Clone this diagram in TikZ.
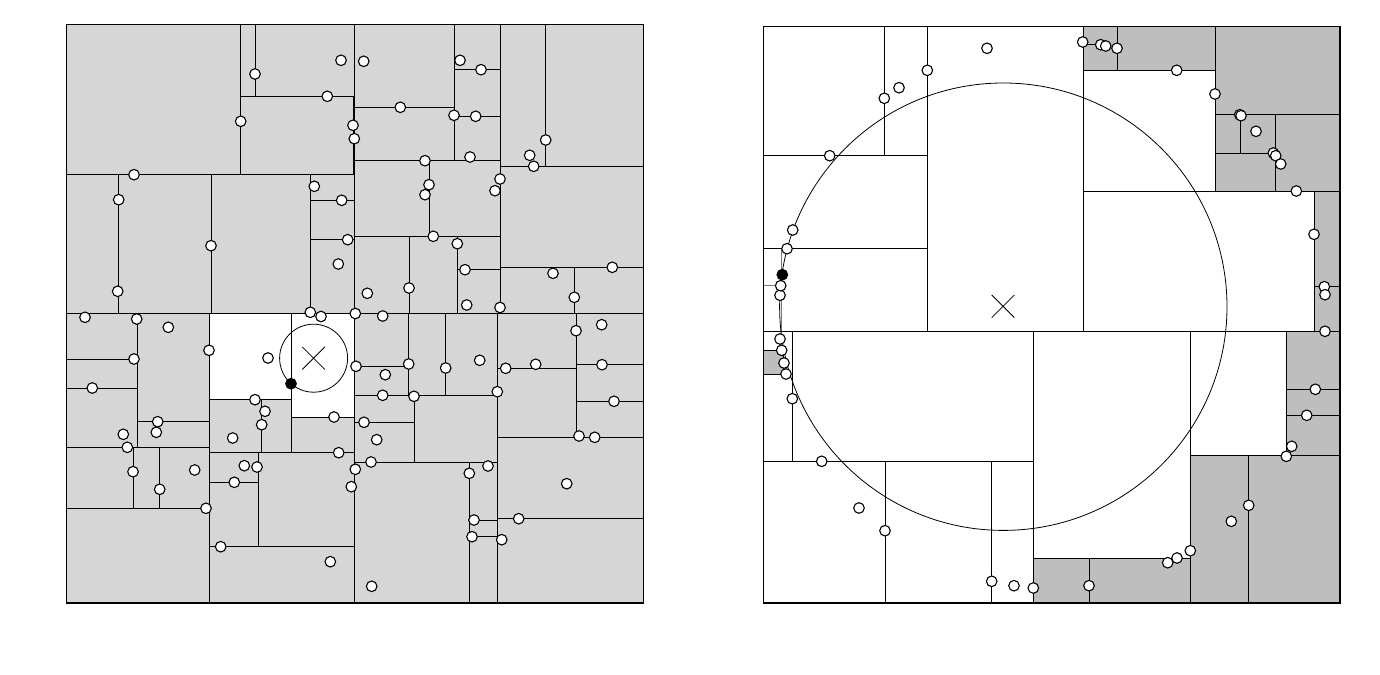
\documentclass[tikz,border=0pt]{standalone}
\definecolor{lgray}{RGB}{214,214,214}
\definecolor{dgray}{RGB}{190,190,190}
\definecolor{mgray}{RGB}{120,120,120}
\tikzset{
  seg/.style={line width=0.9pt, draw=black},
  gseg/.style={line width=0.9pt, draw=mgray},
  frame/.style={line width=1.2pt, draw=black},
  pt/.style={draw=black, fill=white, line width=1.1pt},
  bpt/.style={draw=black, fill=black, line width=1.1pt},
  ring/.style={line width=0.8pt, draw=black},
  crossmark/.style={line width=0.8pt, draw=black}
}
\begin{document}
\begin{tikzpicture}[x=1pt,y=-1pt]
\useasboundingbox (0,0) rectangle (1380,674);
% ================= LEFT PANEL =================
\fill[lgray] (66.7,24.7) rectangle (643.3,603);
\fill[white] (209,313) -- (354.5,313) -- (354.5,417) -- (291,417) -- (291,399.7) -- (209,399.7) -- cycle;
\foreach \x/\ya/\yb in {240.7/24.7/174.7, 255/24.7/96.3, 353/96.3/174.7, 354.5/24.7/603,
  118.7/174.7/313, 211/174.7/313, 454/24.7/160.7, 429/160.7/236.3, 310.3/174.7/313,
  409/236.3/313, 500/24.7/313, 457.3/236.3/313, 545.7/24.7/166.3, 574.3/267.3/313,
  137.3/313/447.3, 209/313/603, 133/447.3/508, 159.7/447.3/508, 291/313/452.3,
  261.7/399.7/452.3, 258.3/452.3/546.7, 408.7/313/395.3, 445.7/313/395.3, 414/395.3/462,
  497.3/313/603, 576/313/437, 469.3/462/603}
  \draw[seg] (\x,\ya) -- (\x,\yb);
\foreach \y/\xa/\xb in {96.3/240.7/353, 174.7/66.7/354.5, 313/66.7/643.3, 107.3/354.5/454,
  69.7/454/500, 116.3/454/500, 160.7/354.5/500, 236.3/354.5/500, 200.3/310.3/354.5,
  239.7/310.3/354.5, 269.7/457.3/500, 166.3/500/643.3, 267.3/500/643.3, 359/66.7/137.3,
  388/66.7/137.3, 421.7/137.3/209, 447.3/66.7/209, 508/66.7/209, 399.7/209/291,
  417/291/354.5, 452.3/209/354.5, 482.3/209/258.3, 546.7/209/354.5, 366.3/354.5/408.7,
  395.3/354.5/497.3, 422.3/354.5/414, 462/354.5/497.3, 368.3/497.3/576, 364.7/576/643.3,
  401.3/576/643.3, 437/497.3/643.3, 520/469.3/497.3, 518.7/497.3/643.3, 536.7/469.3/497.3}
  \draw[seg] (\xa,\y) -- (\xb,\y);
\draw[frame] (66.7,24.7) rectangle (643.3,603);
\draw[ring] (313.6,358.2) circle (34pt);
\draw[crossmark] (302.3,346.9) -- (324.9,369.5) (302.3,369.5) -- (324.9,346.9);
\foreach \x/\y in {255/74, 240.7/121.3, 134/174.7, 118.7/199.7, 117.7/291.3, 211/245.7,
  85/317.3, 136.7/319, 341/60.3, 363.7/61.3, 327.3/96.3, 353/125.3, 354.3/138.7,
  400.3/107.3, 425/160.7, 429/184.7, 425/194.7, 433.3/236.3, 314.3/186.3, 341.7/200.3,
  347.7/239.7, 338.3/264, 310.3/312.3, 321/316.5, 355.3/313.5, 382.7/316, 409/288,
  367.3/293.3, 460/60.3, 481/69.7, 454/115.3, 475.7/116.3, 470/157, 500/179, 495/190.7,
  545.7/140, 529.7/155.3, 533.7/166.3, 457.3/243.7, 465/269.7, 466.7/305, 612.3/267.3,
  553/273.3, 574.3/297.3, 500/307.5,
  168.3/327.3, 209/350.3, 134/359, 92.3/388, 157.7/421.7, 156.3/432.3, 123.3/434.3,
  127.3/447.3, 133/471.7, 159.7/489.3, 194.7/470, 206/508.3, 255/399.7, 232.7/438,
  244.3/465.7, 257/467, 234.3/482.3, 220.7/546.7, 268/358, 265/411.3, 261.7/424.7,
  334/417, 338.7/452.7, 356/366.3, 408.7/364, 385.3/374.7, 382.7/395.3, 414/396.3,
  445.7/368, 364/422.3, 376.7/439.7, 371/462, 355.3/469.3, 351.3/486.7, 330.3/561.7,
  371.7/586.3, 479.7/360.3, 497.3/391.7, 505.7/368.3, 535.7/364.3, 576/330.7,
  601.7/324.7, 602/364.7, 614/401.3, 579/436, 594.7/437.3, 488/466, 469.3/473.3,
  566.7/483.7, 474/520, 518.7/518.7, 472/536.7, 501.7/539.7}
  \draw[pt] (\x,\y) circle (5.3pt);
\draw[bpt] (291,383.7) circle (5.3pt);
% ================= RIGHT PANEL =================
\fill[dgray] (1083,26.3) rectangle (1215,70.3);
\fill[dgray] (1215,26.3) rectangle (1340,191);
\fill[dgray] (1314,191) rectangle (1340,331.3);
\fill[dgray] (1286.7,331.3) rectangle (1340,455.7);
\fill[dgray] (1190.3,455.7) rectangle (1340,603);
\fill[dgray] (1033.3,558) rectangle (1190.3,603);
\fill[dgray] (763.3,350.7) rectangle (783,374);
\foreach \x/\ya/\yb in {884.3/26.3/155.7, 927.3/26.3/331.3, 1083/26.3/331.3, 1117/26.3/70.3,
  1215/26.3/191, 1240.7/114.7/153.7, 1275.3/114.7/191, 1314/191/331.3, 792.3/331.3/461.3,
  885/461.3/603, 991.7/461.3/603, 1033.3/331.3/603, 1089/558/603, 1190.3/331.3/603,
  1286.7/331.3/455.7, 1248.7/455.7/603}
  \draw[seg] (\x,\ya) -- (\x,\yb);
\foreach \y/\xa/\xb in {155.7/763.3/927.3, 248.7/763.3/927.3, 70.3/1083/1215, 44.7/1083/1100.7,
  191/1083/1340, 114.7/1215/1340, 153.7/1215/1275.3, 286.7/1314/1340, 331.3/763.3/1340,
  461.3/763.3/1033.3, 558/1033.3/1190.3, 389.3/1286.7/1340, 415.3/1286.7/1340,
  455.7/1190.3/1340}
  \draw[seg] (\xa,\y) -- (\xb,\y);
\draw[gseg] (781,248.7) -- (781,331.3);
\draw[gseg] (763.3,285.7) -- (781,285.7);
\draw[seg] (763.3,350.7) -- (783,350.7) -- (783,374) -- (763.3,374);
\draw[frame] (763.3,26.3) rectangle (1340,603);
\draw[ring] (1003.3,306.7) circle (223.7pt);
\draw[crossmark] (991.7,295) -- (1014.3,317.6) (991.7,317.6) -- (1014.3,295);
\foreach \x/\y in {987/48.3, 1082.7/42, 1100.7/44.7, 1105.7/46, 1117/48.3, 1176.7/70.3,
  1215/94, 1239.7/114.7, 1241/115.7, 1256/131.3, 1273.3/153, 1275.7/155.7, 1280.7/164,
  1296.3/191, 1314/234.3, 1324.3/286.7, 1325/294.7, 1325/331.3, 1315.3/389.3,
  1306.7/415.3, 1291.7/446.3, 1286.3/456.3, 1248.7/505.3, 1231.3/521.3, 1190.3/550.7,
  1177/558, 1167.7/562.7, 1089/585.7, 1033.3/588, 1014/585.7, 991.7/581.3, 885/530.7,
  859/508, 821.7/461.3, 792.3/398.7, 786/374, 784/363, 781.7/350.3, 780/339,
  780/295.3, 780.7/285.7, 787/248.7, 792.7/230, 829.7/155.7, 884.3/98.3, 899/87.7,
  927.3/70.3}
  \draw[pt] (\x,\y) circle (5.3pt);
\draw[bpt] (782.3,274.7) circle (5.3pt);
\end{tikzpicture}
\end{document}
